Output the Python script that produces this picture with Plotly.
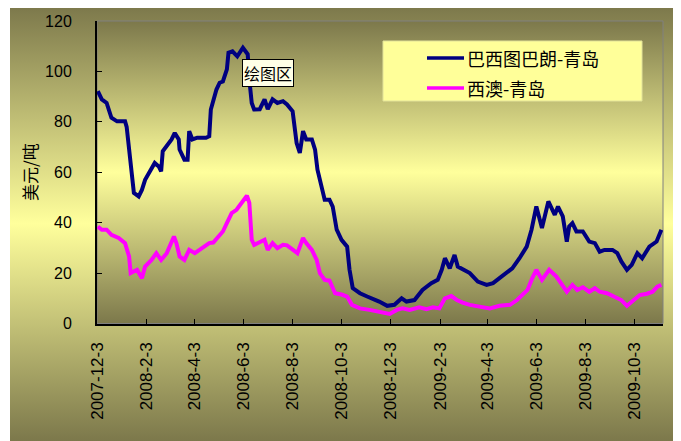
import plotly.graph_objects as go

# 巴西图巴朗-青岛 freight (USD/t)
brazil_dates = [
    "2007-12-04", "2007-12-09", "2007-12-15", "2007-12-21", "2007-12-28", "2008-01-07",
    "2008-01-09", "2008-01-12", "2008-01-14", "2008-01-18", "2008-01-24", "2008-01-28",
    "2008-02-01", "2008-02-09", "2008-02-13", "2008-02-18", "2008-02-21", "2008-02-23",
    "2008-02-28", "2008-03-05", "2008-03-09", "2008-03-14", "2008-03-15", "2008-03-21",
    "2008-03-25", "2008-03-27", "2008-03-31", "2008-04-06", "2008-04-17", "2008-04-21",
    "2008-04-23", "2008-04-30", "2008-05-04", "2008-05-08", "2008-05-13", "2008-05-15",
    "2008-05-20", "2008-05-26", "2008-06-02", "2008-06-08", "2008-06-10", "2008-06-13",
    "2008-06-16", "2008-06-23", "2008-06-29", "2008-07-03", "2008-07-09", "2008-07-15",
    "2008-07-22", "2008-07-27", "2008-08-03", "2008-08-08", "2008-08-12", "2008-08-16",
    "2008-08-20", "2008-08-27", "2008-08-31", "2008-09-03", "2008-09-08", "2008-09-12",
    "2008-09-18", "2008-09-22", "2008-09-27", "2008-10-03", "2008-10-10", "2008-10-13",
    "2008-10-17", "2008-10-26", "2008-11-04", "2008-11-16", "2008-11-19", "2008-11-29",
    "2008-12-08", "2008-12-17", "2008-12-23", "2009-01-02", "2009-01-12", "2009-01-23",
    "2009-01-31", "2009-02-05", "2009-02-09", "2009-02-15", "2009-02-21", "2009-02-25",
    "2009-03-08", "2009-03-12", "2009-03-22", "2009-04-02", "2009-04-10", "2009-04-18",
    "2009-04-27", "2009-05-04", "2009-05-13", "2009-05-22", "2009-05-28", "2009-06-01",
    "2009-06-03", "2009-06-10", "2009-06-13", "2009-06-18", "2009-06-26", "2009-06-30",
    "2009-07-06", "2009-07-11", "2009-07-14", "2009-07-18", "2009-07-23", "2009-07-31",
    "2009-08-08", "2009-08-15", "2009-08-21", "2009-08-27", "2009-09-06", "2009-09-12",
    "2009-09-17", "2009-09-24", "2009-09-30", "2009-10-07", "2009-10-13", "2009-10-22",
    "2009-10-31", "2009-11-06",
]
brazil_vals = [
    92.2, 88.9, 87.5, 81.6, 80.2, 80.2,
    78.0, 70.0, 62.0, 51.8, 50.4, 53.0,
    57.0, 61.7, 63.7, 62.3, 60.4, 68.3,
    70.3, 73.0, 75.6, 73.0, 69.0, 65.0,
    65.0, 76.3, 73.0, 73.7, 73.7, 74.3,
    84.9, 92.8, 95.5, 96.0, 100.8, 107.4,
    108.0, 106.0, 109.4, 106.8, 96.8, 87.5,
    84.9, 85.0, 88.9, 85.0, 88.9, 87.5,
    88.2, 86.9, 84.2, 71.6, 67.7, 76.3,
    73.0, 73.0, 69.0, 61.0, 54.4, 49.1,
    49.1, 46.4, 37.2, 33.2, 30.5, 21.3,
    14.0, 12.0, 10.7, 9.3, 8.7, 7.0,
    7.4, 10.0, 8.7, 9.3, 13.3, 16.0,
    17.3, 21.3, 25.9, 21.9, 27.2, 22.6,
    20.6, 20.0, 16.6, 15.3, 16.0, 18.0,
    20.0, 21.9, 25.9, 30.5, 37.2, 43.8,
    46.4, 37.9, 42.5, 48.4, 43.1, 46.4,
    42.5, 32.5, 38.5, 39.8, 36.5, 36.5,
    32.5, 31.9, 28.5, 29.2, 29.2, 27.9,
    24.6, 21.3, 23.3, 27.9, 25.9, 30.5,
    32.5, 37.2,
]

# 西澳-青岛 freight (USD/t)
wa_dates = [
    "2007-12-04", "2007-12-09", "2007-12-15", "2007-12-21", "2007-12-30", "2008-01-07",
    "2008-01-12", "2008-01-14", "2008-01-22", "2008-01-28", "2008-02-01", "2008-02-09",
    "2008-02-15", "2008-02-21", "2008-02-28", "2008-03-08", "2008-03-11", "2008-03-15",
    "2008-03-21", "2008-03-27", "2008-04-03", "2008-04-12", "2008-04-21", "2008-04-26",
    "2008-05-01", "2008-05-08", "2008-05-14", "2008-05-19", "2008-05-25", "2008-06-01",
    "2008-06-07", "2008-06-10", "2008-06-13", "2008-06-16", "2008-06-23", "2008-06-29",
    "2008-07-03", "2008-07-09", "2008-07-15", "2008-07-22", "2008-07-27", "2008-08-03",
    "2008-08-09", "2008-08-16", "2008-08-20", "2008-08-27", "2008-09-02", "2008-09-06",
    "2008-09-12", "2008-09-18", "2008-09-25", "2008-10-03", "2008-10-10", "2008-10-16",
    "2008-10-26", "2008-11-07", "2008-11-17", "2008-11-19", "2008-12-02", "2008-12-11",
    "2008-12-18", "2008-12-27", "2009-01-08", "2009-01-17", "2009-01-25", "2009-02-02",
    "2009-02-09", "2009-02-17", "2009-02-24", "2009-03-03", "2009-03-12", "2009-03-24",
    "2009-04-06", "2009-04-18", "2009-05-01", "2009-05-10", "2009-05-17", "2009-05-23",
    "2009-05-29", "2009-06-03", "2009-06-10", "2009-06-16", "2009-06-19", "2009-06-28",
    "2009-07-06", "2009-07-11", "2009-07-18", "2009-07-24", "2009-07-31", "2009-08-08",
    "2009-08-15", "2009-08-21", "2009-08-30", "2009-09-09", "2009-09-17", "2009-09-24",
    "2009-10-01", "2009-10-10", "2009-10-19", "2009-10-26", "2009-11-01", "2009-11-06",
]
wa_vals = [
    38.5, 37.2, 37.2, 35.2, 33.9, 31.9,
    26.6, 20.0, 21.3, 18.0, 22.6, 25.2,
    27.9, 25.2, 27.9, 34.5, 31.9, 26.6,
    25.2, 29.2, 27.9, 29.9, 31.9, 32.1,
    33.9, 36.5, 40.5, 43.8, 45.1, 47.8,
    50.7, 47.8, 33.2, 31.2, 32.5, 33.2,
    29.2, 31.9, 29.9, 31.2, 31.0, 29.2,
    27.9, 33.9, 31.9, 29.2, 25.2, 20.0,
    17.3, 17.0, 12.0, 11.5, 10.7, 7.4,
    6.0, 5.4, 4.7, 4.5, 3.8, 5.4,
    6.0, 5.4, 6.4, 5.7, 6.4, 6.0,
    10.0, 10.9, 9.3, 8.3, 7.4, 6.7,
    6.0, 7.0, 7.4, 9.3, 11.3, 13.3,
    18.0, 21.3, 17.3, 20.0, 21.3, 18.6,
    15.3, 12.6, 15.3, 13.3, 14.4, 12.6,
    14.0, 12.6, 12.0, 10.7, 9.3, 7.0,
    8.7, 11.3, 11.8, 12.6, 14.6, 15.3,
]

tick_dates = [
    "2007-12-03", "2008-02-03", "2008-04-03", "2008-06-03", "2008-08-03", "2008-10-03",
    "2008-12-03", "2009-02-03", "2009-04-03", "2009-06-03", "2009-08-03", "2009-10-03",
]
tick_text = [
    "2007-12-3", "2008-2-3", "2008-4-3", "2008-6-3", "2008-8-3", "2008-10-3",
    "2008-12-3", "2009-2-3", "2009-4-3", "2009-6-3", "2009-8-3", "2009-10-3",
]
series_names = ["巴西图巴朗-青岛", "西澳-青岛"]
series_colors = ["#000080", "#ff00ff"]

W, H = 681, 441
OFF = 8  # page body margin that the html page adds around the plot div
DARK = "#7c784b"
LIGHT = "#ffff9c"
CJK = "Noto Sans CJK SC"
LATIN = "Liberation Sans, Arial"


def fx(px):
    """page pixel x -> figure fraction"""
    return (px - OFF) / W


def fy(py):
    """page pixel y -> figure fraction"""
    return 1 - (py - OFF) / H


def gradient_rect(x0, y0, x1, y1, line_color=None):
    # filled rectangle in figure-fraction coords, dark-light-dark vertical gradient
    return go.Scatter(
        x=[x0, x1, x1, x0, x0], y=[y0, y0, y1, y1, y0],
        mode="lines", fill="toself",
        line=dict(width=1 if line_color else 0, color=line_color or "rgba(0,0,0,0)"),
        fillgradient=dict(type="vertical", start=y0, stop=y1,
                          colorscale=[[0, DARK], [0.5, LIGHT], [1, DARK]]),
        hoverinfo="skip", showlegend=False, xaxis="x", yaxis="y",
    )


fig = go.Figure()

# chart area and plot area backgrounds
fig.add_trace(gradient_rect(fx(10), fy(441), fx(676), fy(6)))
fig.add_trace(gradient_rect(fx(97), fy(323.5), fx(663), fy(21), line_color="#808080"))

for dates, vals, name, color in [
    (brazil_dates, brazil_vals, series_names[0], series_colors[0]),
    (wa_dates, wa_vals, series_names[1], series_colors[1]),
]:
    fig.add_trace(go.Scatter(
        x=dates, y=vals, name=name, mode="lines",
        line=dict(color=color, width=4),
        xaxis="x2", yaxis="y2", showlegend=False,
    ))

fig.update_layout(
    width=W, height=H,
    margin=dict(l=0, r=0, t=0, b=0, autoexpand=False),
    paper_bgcolor="white",
    plot_bgcolor="rgba(0,0,0,0)",
    xaxis=dict(domain=[0, 1], range=[0, 1], visible=False, fixedrange=True, automargin=False),
    yaxis=dict(domain=[0, 1], range=[0, 1], visible=False, fixedrange=True, automargin=False),
    xaxis2=dict(
        domain=[fx(97), fx(663)], anchor="y2", type="date",
        range=["2007-12-03", "2009-11-08"],
        tickvals=tick_dates, ticktext=tick_text, tickangle=-90,
        tickfont=dict(family=LATIN, size=17, color="black"),
        ticks="inside", ticklen=5, tickcolor="black",
        showline=True, linecolor="black", linewidth=2,
        showgrid=False, zeroline=False, ticklabelstandoff=10, automargin=False,
    ),
    yaxis2=dict(
        domain=[fy(323.5), fy(21)], anchor="x2",
        range=[0, 120], tickvals=[0, 20, 40, 60, 80, 100, 120],
        tickfont=dict(family=LATIN, size=16, color="black"),
        ticks="inside", ticklen=5, tickcolor="black",
        showline=True, linecolor="black", linewidth=2,
        showgrid=False, zeroline=False, ticklabelstandoff=20, automargin=False,
    ),
)

# y axis title
fig.add_annotation(
    xref="paper", yref="paper", x=fx(29), y=fy(172), text="美元/吨",
    xanchor="center", yanchor="middle",
    textangle=-90, showarrow=False, font=dict(family=CJK, size=17, color="black"),
)

# legend box drawn by hand to match the original placement
fig.add_shape(type="rect", xref="paper", yref="paper",
              x0=fx(383), y0=fy(101), x1=fx(642), y1=fy(41),
              fillcolor="#ffff99", line=dict(color="#e2e29a", width=1))
for i, (name, color) in enumerate(zip(series_names, series_colors)):
    row_y = 58 + 30 * i
    fig.add_shape(type="line", xref="paper", yref="paper",
                  x0=fx(427), x1=fx(464), y0=fy(row_y), y1=fy(row_y),
                  line=dict(color=color, width=3.5))
    fig.add_annotation(
        xref="paper", yref="paper", x=fx(465), y=fy(row_y), text=name,
        xanchor="left", yanchor="middle", showarrow=False,
        font=dict(family=CJK, size=18, color="black"),
    )

# the "绘图区" tooltip captured in the original screenshot
fig.add_annotation(
    xref="paper", yref="paper", x=fx(268), y=fy(73), text="绘图区",
    xanchor="center", yanchor="middle",
    showarrow=False, font=dict(family=CJK, size=16, color="black"),
    bgcolor="#ffffe6", bordercolor="black", borderwidth=1, borderpad=1,
)

fig.write_html("out.html")
